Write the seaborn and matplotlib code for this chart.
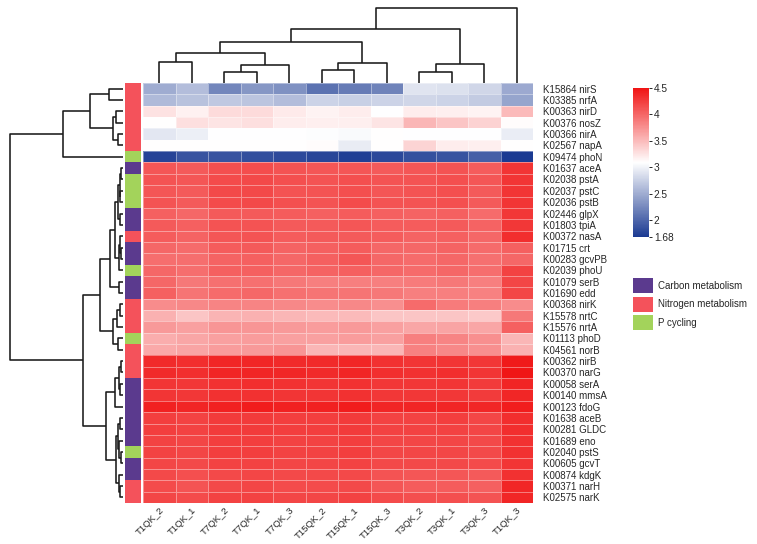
import numpy as np
import pandas as pd
import matplotlib
matplotlib.use("Agg")
import matplotlib.pyplot as plt
import seaborn as sns
from matplotlib.colors import LinearSegmentedColormap, ListedColormap
from matplotlib.patches import Patch

# ---------------- data ----------------
samples = ["T1QK_2", "T1QK_1", "T7QK_2", "T7QK_1", "T7QK_3", "T15QK_2",
           "T15QK_1", "T15QK_3", "T3QK_2", "T3QK_1", "T3QK_3", "T1QK_3"]

genes = ["K15864 nirS", "K03385 nrfA", "K00363 nirD", "K00376 nosZ", "K00366 nirA",
         "K02567 napA", "K09474 phoN", "K01637 aceA", "K02038 pstA", "K02037 pstC",
         "K02036 pstB", "K02446 glpX", "K01803 tpiA", "K00372 nasA", "K01715 crt",
         "K00283 gcvPB", "K02039 phoU", "K01079 serB", "K01690 edd", "K00368 nirK",
         "K15578 nrtC", "K15576 nrtA", "K01113 phoD", "K04561 norB", "K00362 nirB",
         "K00370 narG", "K00058 serA", "K00140 mmsA", "K00123 fdoG", "K01638 aceB",
         "K00281 GLDC", "K01689 eno", "K02040 pstS", "K00605 gcvT", "K00874 kdgK",
         "K00371 narH", "K02575 narK"]

category_names = ["Carbon metabolism", "Nitrogen metabolism", "P cycling"]
gene_category = ["N", "N", "N", "N", "N", "N", "P", "C", "P", "P",
                 "P", "C", "C", "N", "C", "C", "P", "C", "C", "N",
                 "N", "N", "P", "N", "N", "N", "C", "C", "C", "C",
                 "C", "C", "P", "C", "C", "N", "N"]

values = [
    [2.50, 2.62, 2.22, 2.35, 2.30, 2.08, 2.15, 2.20, 2.90, 2.88, 2.80, 2.48],
    [2.60, 2.66, 2.70, 2.68, 2.62, 2.78, 2.75, 2.78, 2.80, 2.78, 2.72, 2.45],
    [3.26, 3.17, 3.30, 3.30, 3.22, 3.16, 3.20, 3.09, 3.20, 3.18, 3.16, 3.50],
    [3.10, 3.28, 3.25, 3.28, 3.20, 3.18, 3.18, 3.25, 3.52, 3.44, 3.36, 3.11],
    [2.92, 2.97, 3.08, 3.09, 3.09, 3.07, 3.05, 3.10, 3.09, 3.09, 3.09, 2.96],
    [3.10, 3.10, 3.10, 3.10, 3.10, 3.11, 2.95, 3.10, 3.35, 3.20, 3.18, 3.10],
    [1.75, 1.86, 1.86, 1.83, 1.80, 1.76, 1.72, 1.78, 1.84, 1.86, 1.95, 1.68],
    [4.10, 4.08, 4.14, 4.15, 4.12, 4.10, 4.10, 4.08, 4.10, 4.12, 4.06, 4.30],
    [4.12, 4.10, 4.16, 4.18, 4.14, 4.12, 4.14, 4.12, 4.12, 4.14, 4.10, 4.30],
    [4.10, 4.08, 4.18, 4.18, 4.12, 4.12, 4.14, 4.10, 4.12, 4.14, 4.08, 4.30],
    [4.12, 4.08, 4.16, 4.18, 4.14, 4.12, 4.16, 4.12, 4.12, 4.14, 4.08, 4.30],
    [4.04, 4.00, 4.08, 4.08, 4.06, 4.04, 4.06, 4.04, 4.02, 4.04, 3.98, 4.28],
    [4.08, 4.04, 4.12, 4.12, 4.08, 4.08, 4.10, 4.06, 4.06, 4.08, 4.02, 4.28],
    [4.06, 4.02, 4.10, 4.12, 4.06, 4.08, 4.08, 4.06, 4.02, 4.04, 4.00, 4.34],
    [4.00, 3.98, 4.06, 4.08, 4.02, 4.04, 4.06, 4.00, 4.00, 4.02, 3.98, 4.04],
    [3.96, 3.96, 4.02, 4.04, 4.00, 4.04, 4.10, 4.00, 3.98, 4.00, 3.94, 4.00],
    [4.00, 3.96, 4.04, 4.04, 4.00, 4.02, 4.04, 4.00, 3.98, 4.00, 3.96, 4.22],
    [4.00, 3.90, 3.94, 3.94, 3.90, 3.86, 3.86, 3.86, 3.88, 3.90, 3.86, 4.20],
    [4.04, 3.92, 3.98, 4.00, 3.94, 3.92, 3.92, 3.90, 3.86, 3.86, 3.84, 4.20],
    [3.78, 3.80, 3.82, 3.82, 3.80, 3.78, 3.80, 3.76, 3.98, 3.88, 3.86, 3.78],
    [3.56, 3.44, 3.54, 3.56, 3.52, 3.50, 3.50, 3.44, 3.44, 3.44, 3.42, 3.90],
    [3.70, 3.66, 3.72, 3.72, 3.70, 3.68, 3.70, 3.66, 3.62, 3.64, 3.62, 4.04],
    [3.58, 3.62, 3.66, 3.68, 3.66, 3.66, 3.68, 3.66, 3.86, 3.82, 3.76, 3.52],
    [3.60, 3.64, 3.68, 3.70, 3.72, 3.52, 3.52, 3.52, 3.84, 3.80, 3.76, 3.56],
    [4.36, 4.34, 4.38, 4.38, 4.36, 4.36, 4.38, 4.32, 4.30, 4.30, 4.28, 4.46],
    [4.36, 4.34, 4.40, 4.40, 4.38, 4.36, 4.40, 4.34, 4.32, 4.34, 4.30, 4.48],
    [4.30, 4.28, 4.32, 4.34, 4.32, 4.30, 4.32, 4.28, 4.28, 4.30, 4.26, 4.40],
    [4.30, 4.28, 4.32, 4.32, 4.30, 4.30, 4.32, 4.28, 4.28, 4.28, 4.26, 4.38],
    [4.42, 4.40, 4.42, 4.44, 4.42, 4.42, 4.44, 4.40, 4.40, 4.40, 4.38, 4.44],
    [4.24, 4.22, 4.26, 4.26, 4.24, 4.24, 4.26, 4.22, 4.22, 4.24, 4.20, 4.34],
    [4.24, 4.22, 4.26, 4.26, 4.24, 4.24, 4.26, 4.22, 4.22, 4.22, 4.20, 4.34],
    [4.22, 4.20, 4.24, 4.24, 4.22, 4.22, 4.24, 4.20, 4.20, 4.20, 4.18, 4.32],
    [4.22, 4.20, 4.24, 4.24, 4.22, 4.22, 4.24, 4.20, 4.20, 4.20, 4.18, 4.32],
    [4.20, 4.18, 4.22, 4.22, 4.20, 4.20, 4.22, 4.18, 4.18, 4.18, 4.16, 4.30],
    [4.18, 4.14, 4.18, 4.20, 4.18, 4.18, 4.18, 4.12, 4.10, 4.10, 4.08, 4.32],
    [4.16, 4.12, 4.18, 4.20, 4.16, 4.16, 4.18, 4.10, 4.06, 4.06, 4.04, 4.38],
    [4.20, 4.16, 4.22, 4.22, 4.20, 4.20, 4.22, 4.16, 4.14, 4.14, 4.12, 4.38],
]

# dendrogram trees: (merge height, left, right); ints are leaf indices
row_tree = (113,
            (60, (33, (14, 0, 1), (10, (6.6, 2, 3), (5, 4, 5))), 6),
            (40,
             (23,
              (12.6,
               (8,
                (5, (3, (2, 7, 8), (2.5, 9, 10)), (3, 11, 12)),
                (4, (3, 13, (2, 14, 15)), 16)),
               (4, 17, 18)),
              (10, (6, (3, 19, 20), 21), (5, 22, 23))),
             (16.5,
              (8, (4, (2, 24, 25), (3, 26, 27)), 28),
              (7,
               (5, (3, 29, 30), (4, 31, (2, 32, 33))),
               (4, 34, (2.5, 35, 36))))))

col_tree = (225,
            (162,
             (122,
              (90, (63, 0, 1), (53, (33, 2, 3), 4)),
              (60, (38, 5, 6), 7)),
             (57, (33, 8, 9), 10)),
            11)

cbar_ticks = [1.68, 2, 2.5, 3, 3.5, 4, 4.5]
cbar_ticklabels = ["1.68", "2", "2.5", "3", "3.5", "4", "4.5"]
vmin, vmax = 1.68, 4.5

# ---------------- style ----------------
sns.set_style("white")
plt.rcParams["font.family"] = ["Liberation Sans", "DejaVu Sans"]
FS = 7.0

cat_colors = {"C": "#5B3A8E", "N": "#F4525B", "P": "#A3D35B"}
cmap = LinearSegmentedColormap.from_list(
    "bwr_custom", [(0.0, "#1B3A92"), (0.5, "#FFFFFF"), (1.0, "#F01414")])

W, H = 757, 544
fig = plt.figure(figsize=(W / 100, H / 100), dpi=100)


def add_ax(x0, y0, x1, y1):
    return fig.add_axes([x0 / W, 1 - y1 / H, (x1 - x0) / W, (y1 - y0) / H])


def dendro(tree):
    segs, leaves = [], []

    def rec(node):
        if isinstance(node, int):
            leaves.append(node)
            return node + 0.5, 0.0
        h, a, b = node
        xa, ha = rec(a)
        xb, hb = rec(b)
        segs.append(([xa, xa, xb, xb], [ha, h, h, hb]))
        return (xa + xb) / 2, h

    rec(tree)
    return segs, leaves


df = pd.DataFrame(values, index=genes, columns=samples)
n_rows, n_cols = df.shape

HX0, HX1, HY0, HY1 = 143, 533, 83, 503

# main heatmap
ax = add_ax(HX0, HY0, HX1, HY1)
cax = add_ax(633, 88, 649, 237)
sns.heatmap(df, ax=ax, cmap=cmap, vmin=vmin, vmax=vmax,
            linewidths=0.6, linecolor=(1, 1, 1, 0.4),
            cbar_ax=cax, cbar_kws={"ticks": cbar_ticks})
ax.yaxis.tick_right()
ax.set_yticks(np.arange(n_rows) + 0.5)
ax.set_yticklabels(genes, rotation=0, fontsize=FS, ha="left")
ax.set_xticks(np.arange(n_cols) + 0.5)
ax.set_xticklabels(samples, rotation=45, ha="right", rotation_mode="anchor",
                   fontsize=6.8)
ax.tick_params(axis="both", length=0)
ax.tick_params(axis="y", pad=7)
ax.tick_params(axis="x", pad=2)
ax.set_xlabel("")
ax.set_ylabel("")

cbar = ax.collections[0].colorbar
cbar.set_ticks(cbar_ticks)
cbar.set_ticklabels(cbar_ticklabels)
cbar.outline.set_visible(False)
cax.tick_params(length=2.5, width=0.7, labelsize=FS + 0.3, pad=1)

# row colours
rax = add_ax(125, HY0, 141, HY1)
cat_keys = ["C", "N", "P"]
codes = pd.DataFrame({"cat": [cat_keys.index(c) for c in gene_category]}, index=genes)
sns.heatmap(codes, ax=rax, cmap=ListedColormap([cat_colors[k] for k in cat_keys]),
            vmin=-0.5, vmax=2.5, cbar=False, xticklabels=False, yticklabels=False)
rax.set_xlabel("")
rax.set_ylabel("")

# row dendrogram
dax = add_ax(4, HY0, 123, HY1)
segs, leaves = dendro(row_tree)
assert leaves == list(range(n_rows))
for xs, hs in segs:
    dax.plot(hs, xs, color="#1a1a1a", lw=1.15, solid_capstyle="butt")
dax.set_xlim(row_tree[0] * 1.05, 0)
dax.set_ylim(n_rows, 0)
dax.axis("off")

# column dendrogram
tax = add_ax(HX0, 4, HX1, HY0)
segs, leaves = dendro(col_tree)
assert leaves == list(range(n_cols))
for xs, hs in segs:
    tax.plot(xs, hs, color="#1a1a1a", lw=1.15, solid_capstyle="butt")
tax.set_xlim(0, n_cols)
tax.set_ylim(0, col_tree[0] * 1.05)
tax.axis("off")

# legend
handles = [Patch(facecolor=cat_colors[k], edgecolor="none") for k in cat_keys]
fig.legend(handles, category_names, loc="upper left",
           bbox_to_anchor=(633 / W, 1 - 278 / H), frameon=False,
           fontsize=FS, handlelength=2.1, handleheight=2.0,
           labelspacing=0.38, handletextpad=0.5, borderpad=0, borderaxespad=0)

fig.savefig("out.png", dpi=100)
